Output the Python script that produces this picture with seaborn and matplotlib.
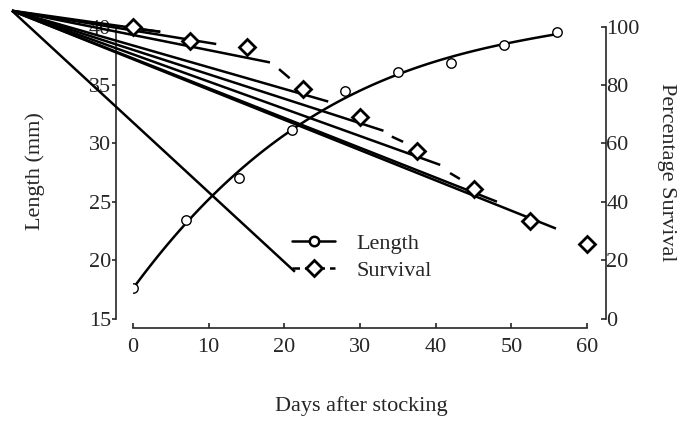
import numpy as np
import matplotlib
matplotlib.use("Agg")
import matplotlib.pyplot as plt
from matplotlib.lines import Line2D
import seaborn as sns

# ---- data ----
length_days = [0, 7, 14, 21, 28, 35, 42, 49, 56]
length_mm = [17.6, 23.4, 27.0, 31.1, 34.5, 36.1, 36.9, 38.4, 39.5]

survival_days = [0, 7.5, 15, 22.5, 30, 37.5, 45, 52.5, 60]
survival_pct = [100, 95, 93, 78.5, 69, 57.5, 44.5, 33.5, 25.5]

# the survival trend is drawn in the reference as straight strokes that all
# start from one point, plus a few short free dashes
stray_start_day = -16.0
stray_start_pct = 105.4
stray_end_days = [3.6, 11.0, 18.1, 25.8, 33.1, 40.6, 48.1, 55.9, 21.4]
stray_end_pct = [98.2, 94.0, 87.7, 74.3, 64.3, 52.6, 40.0, 30.8, 16.0]

dash_start_days = [1.0, 19.3, 34.2, 41.9]
dash_start_pct = [99.0, 85.4, 62.3, 49.8]
dash_end_days = [3.6, 20.7, 35.7, 43.2]
dash_end_pct = [98.2, 82.3, 60.5, 47.8]

x_ticks = [0, 10, 20, 30, 40, 50, 60]
left_ticks = [15, 20, 25, 30, 35, 40]
right_ticks = [0, 20, 40, 60, 80, 100]

sns.set_style("ticks")
plt.rcParams["font.family"] = ["Liberation Serif", "DejaVu Serif"]
plt.rcParams["font.size"] = 16

fig = plt.figure(figsize=(6.77, 4.30), dpi=100)
ax = fig.add_axes([133 / 677, 1 - 318.5 / 430, 454 / 677, 292 / 430])
ax2 = ax.twinx()

lw = 1.8
# length: cubic fit + open circles
sns.regplot(x=length_days, y=length_mm, order=3, ci=None, scatter=False,
            ax=ax, line_kws=dict(color="black", lw=lw), truncate=True)
ax.plot(length_days, length_mm, linestyle="none", marker="o", ms=6.8,
        mfc="white", mec="black", mew=1.0, zorder=5)

# survival strokes
for d, p in zip(stray_end_days, stray_end_pct):
    ax2.plot([stray_start_day, d], [stray_start_pct, p], color="black",
             lw=lw, clip_on=False, solid_capstyle="butt")
for d0, p0, d1, p1 in zip(dash_start_days, dash_start_pct,
                          dash_end_days, dash_end_pct):
    ax2.plot([d0, d1], [p0, p1], color="black", lw=lw,
             solid_capstyle="butt")
ax2.plot(survival_days, survival_pct, linestyle="none", marker="D", ms=8,
         mfc="white", mec="black", mew=2.0, zorder=5, clip_on=False)

ax.set_xlim(0, 60)
ax.set_ylim(15, 40)
ax2.set_ylim(0, 100)
ax.set_xticks(x_ticks)
ax.set_yticks(left_ticks)
ax2.set_yticks(right_ticks)

for a in (ax, ax2):
    a.spines["top"].set_visible(False)
    for s in a.spines.values():
        s.set_linewidth(1.2)
ax.spines["right"].set_visible(False)
ax2.spines["left"].set_visible(False)
ax2.spines["bottom"].set_visible(False)
ax.spines["left"].set_position(("outward", 12.2))
ax.spines["bottom"].set_position(("outward", 6.8))
ax2.spines["right"].set_position(("outward", 13.5))
ax.spines["left"].set_bounds(15, 40)
ax.spines["bottom"].set_bounds(0, 60)
ax2.spines["right"].set_bounds(0, 100)

ax.tick_params(axis="y", direction="out", length=3, width=1.2, pad=0.5,
               labelsize=16)
ax.tick_params(axis="x", direction="in", length=3.5, width=1.2, pad=7,
               labelsize=16)
ax2.tick_params(axis="y", direction="in", length=3.5, width=1.2, pad=0.5,
                labelsize=16)

ax.set_xlabel("Days after stocking", fontsize=16)
ax.set_ylabel("Length (mm)", fontsize=16)
ax2.set_ylabel("Percentage Survival", fontsize=16, rotation=270)
ax.xaxis.set_label_coords(0.502, -0.30)
ax.xaxis.label.set_va("center")
ax.yaxis.set_label_coords(-0.216, 0.505)
ax.yaxis.label.set_va("center")
ax2.yaxis.set_label_coords(1.176, 0.5)
ax2.yaxis.label.set_va("center")

handles = [
    Line2D([], [], color="black", lw=lw, marker="o", ms=6.8, mfc="white",
           mec="black", mew=1.8),
    Line2D([], [], color="black", lw=lw, dashes=(3, 2), marker="D", ms=8,
           mfc="white", mec="black", mew=2.0),
]
ax.legend(handles, ["Length", "Survival"], loc="center left",
          bbox_to_anchor=(0.350, 0.21), frameon=False, borderpad=0,
          borderaxespad=0, handlelength=1.95, handletextpad=0.95,
          labelspacing=0.3, fontsize=16)

fig.savefig("out.png", dpi=100)
